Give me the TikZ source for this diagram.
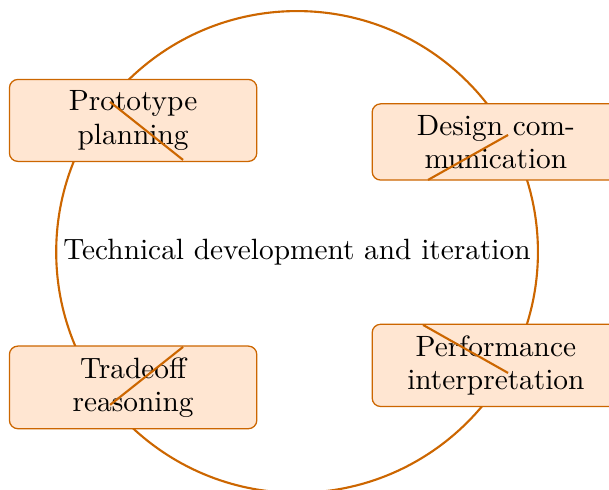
\documentclass[tikz,border=0pt]{standalone}
\begin{document}
\begin{tikzpicture}
\definecolor{edgeor}{RGB}{204,102,0}
\definecolor{fillor}{RGB}{255,230,210}
\tikzset{
  every node/.style={font=\fontsize{10.4pt}{11.8pt}\selectfont},
  stagebox/.style={draw=edgeor, fill=fillor, rounded corners=3pt, text width=2.8cm, align=center, inner sep=4pt, line width=0.45pt},
  ring/.style={draw=edgeor, line width=0.75pt},
  slash/.style={draw=edgeor, line width=0.75pt}
}
\useasboundingbox (-3.70,-2.964) rectangle (3.885,3.138);
\draw[ring] (0,0) circle (3cm);
\node (center) at (0,0) {Technical development and iteration};
\node[stagebox] (proto) at (-2.042,1.638) {Prototype\\planning};
\node[stagebox] (design) at (2.476,1.37) {Design com-\\munication};
\node[stagebox] (trade) at (-2.042,-1.687) {Tradeoff\\reasoning};
\node[stagebox] (perf) at (2.476,-1.413) {Performance\\interpretation};
\coordinate (p1) at (-2.329,1.868);
\coordinate (p2) at (-1.420,1.146);
\coordinate (d1) at (2.628,1.457);
\coordinate (d2) at (1.631,0.897);
\coordinate (t1) at (-1.420,-1.183);
\coordinate (t2) at (-2.329,-1.905);
\coordinate (q1) at (1.569,-0.909);
\coordinate (q2) at (2.628,-1.507);
\draw[slash] (p1) -- (p2);
\draw[slash] (d1) -- (d2);
\draw[slash] (t1) -- (t2);
\draw[slash] (q1) -- (q2);
\end{tikzpicture}
\end{document}
